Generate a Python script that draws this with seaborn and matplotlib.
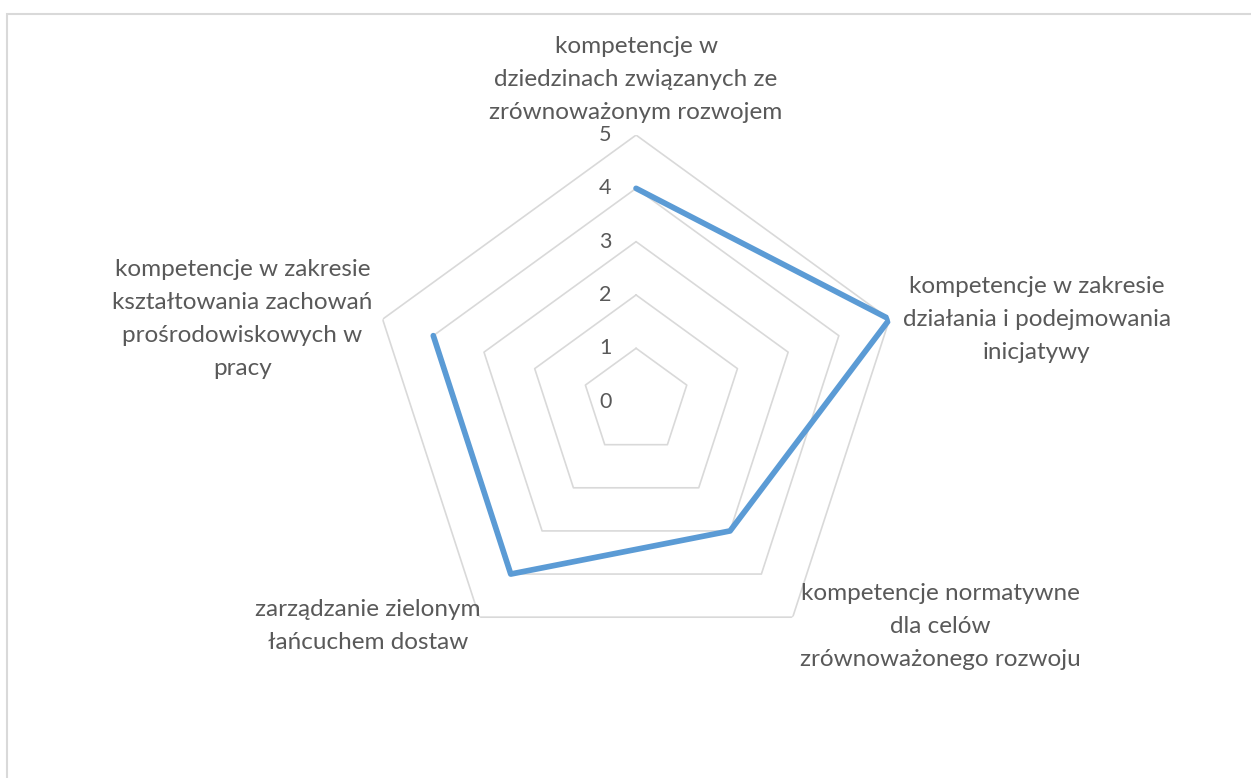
import numpy as np
import pandas as pd
import seaborn as sns
from matplotlib import pyplot as plt
from matplotlib.patches import Rectangle

categories = [
    'kompetencje w\ndziedzinach związanych ze\nzrównoważonym rozwojem',
    'kompetencje w zakresie\ndziałania i podejmowania\ninicjatywy',
    'kompetencje normatywne\ndla celów\nzrównoważonego rozwoju',
    'zarządzanie zielonym\nłańcuchem dostaw',
    'kompetencje w zakresie\nkształtowania zachowań\nprośrodowiskowych w\npracy',
]
values = [4, 5, 3, 4, 4]
ticks = [0, 1, 2, 3, 4, 5]

sns.set_style('white')
plt.rcParams['font.family'] = ['Lato', 'DejaVu Sans']

text_color = '#595959'
grid_color = '#D9D9D9'
line_color = '#5B9BD5'

n = len(categories)
angles = np.linspace(0, 2 * np.pi, n, endpoint=False)
closed_angles = np.append(angles, angles[0])

df = pd.DataFrame({'theta': closed_angles, 'value': values + values[:1]})

fig = plt.figure(figsize=(12.51, 7.78), dpi=100)
# chart area frame (right and bottom edges fall outside the image)
fig.patches.append(Rectangle((7 / 1251, -0.01), 1.0, (778 - 14) / 778 + 0.01,
                             transform=fig.transFigure, fill=False,
                             edgecolor=grid_color, linewidth=1.5))

ax = fig.add_axes([0.2954, 0.1413, 0.4261, 0.6851], projection='polar')
ax.set_theta_zero_location('N')
ax.set_theta_direction(-1)
ax.set_ylim(0, ticks[-1])
ax.grid(False)
ax.spines['polar'].set_visible(False)
ax.set_xticks([])
ax.set_yticks([])
ax.patch.set_alpha(0)

# pentagon rings
for t in ticks[1:]:
    ax.plot(closed_angles, [t] * len(closed_angles), color=grid_color, linewidth=1.2, zorder=1)

sns.lineplot(data=df, x='theta', y='value', ax=ax, sort=False, color=line_color,
             linewidth=4.1, zorder=3)
ax.set_xlabel('')
ax.set_ylabel('')

# radial tick labels
for t in ticks:
    ax.annotate(str(t), xy=(0, t), xytext=(-31, 0), textcoords='offset pixels',
                ha='center', va='center', fontsize=15.5, color=text_color)

# category labels
label_style = [
    dict(xytext=(0, 12), ha='center', va='bottom'),
    dict(xytext=(13, 0), ha='left', va='center'),
    dict(xytext=(7, -9), ha='left', va='center'),
    dict(xytext=(1, -9), ha='right', va='center'),
    dict(xytext=(-10, 0), ha='right', va='center'),
]
for ang, cat, st in zip(angles, categories, label_style):
    ax.annotate(cat, xy=(ang, ticks[-1]), textcoords='offset pixels',
                multialignment='center', fontsize=17.5, color=text_color,
                linespacing=1.7, annotation_clip=False, **st)

plt.savefig('out.png', dpi=100)
plt.close()
